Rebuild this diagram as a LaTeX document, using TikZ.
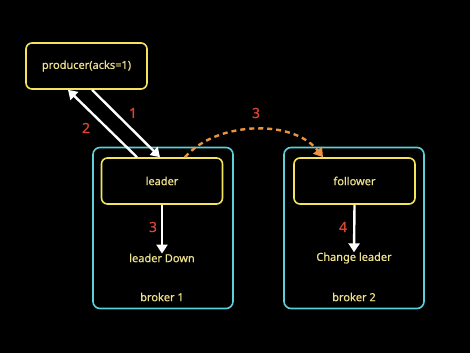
\documentclass[tikz,border=0pt]{standalone}
\usepackage{fontspec}
\setmainfont{Noto Sans}
\newfontfamily\diagfont{Noto Sans}[FakeBold=0.5]
\usetikzlibrary{arrows.meta,positioning}
\definecolor{boxyellow}{HTML}{F3E45C}
\definecolor{textyellow}{HTML}{EFE28C}
\definecolor{brokercyan}{HTML}{5CD0DA}
\definecolor{numred}{HTML}{DC4431}
\definecolor{moveorange}{HTML}{EA9240}

\begin{document}
\begin{tikzpicture}[x=1pt,y=-1pt,
  box/.style={draw=boxyellow,line width=1.6pt,rounded corners=6pt,
    minimum width=121pt,minimum height=46pt,text=textyellow,
    font=\diagfont\fontsize{11}{13}\selectfont},
  broker/.style={draw=brokercyan,line width=1.6pt,rounded corners=7pt,
    minimum width=140pt,minimum height=161pt},
  label/.style={text=textyellow,font=\diagfont\fontsize{11}{13}\selectfont,inner sep=1pt},
  num/.style={text=numred,font=\diagfont\fontsize{14}{16}\selectfont},
  flow/.style={-{Triangle[length=9pt,width=11pt]},line width=2.4pt,white}]
\fill[black] (0,0) rectangle (470,353);
\node[broker] (broker1) at (163,228) {};
\node[broker] (broker2) at (354,228) {};
\node[box] (producer) at (86.5,66) {producer(acks=1)};
\node[box] (leader) at (162,181) {leader};
\node[box] (follower) at (354.5,181) {follower};
\node[label] (down) at (162,258) {leader Down};
\node[label] (change) at (354,258) {Change leader};
\node[label] (b1) at (162,297) {broker 1};
\node[label] (b2) at (354,297) {broker 2};
% producer <-> leader
\draw[flow] ([xshift=5.5pt]producer.south) -- ([xshift=-2pt]leader.north);
\draw[flow] ([xshift=-25pt]leader.north) -- ([xshift=-18.5pt]producer.south);
\node[num] (n1) at (133,113) {1};
\node[num] (n2) at (86,128) {2};
% leader goes down
\draw[flow] (leader.south) -- ([yshift=-1pt]down.north);
\node[num] (n3) at (153,227) {3};
\draw[flow] (follower.south) -- ([yshift=-1pt]change.north);
\node[num] (n4) at (343,227) {4};
% move to follower
\draw[-{Triangle[length=9pt,width=11pt]},line width=2.4pt,moveorange,
  dash pattern=on 5pt off 4pt]
  ([xshift=23pt]leader.north) .. controls (215,122) and (292,118) .. ([xshift=-31.5pt]follower.north);
\node[num] (n5) at (256,113) {3};
\end{tikzpicture}
\end{document}
